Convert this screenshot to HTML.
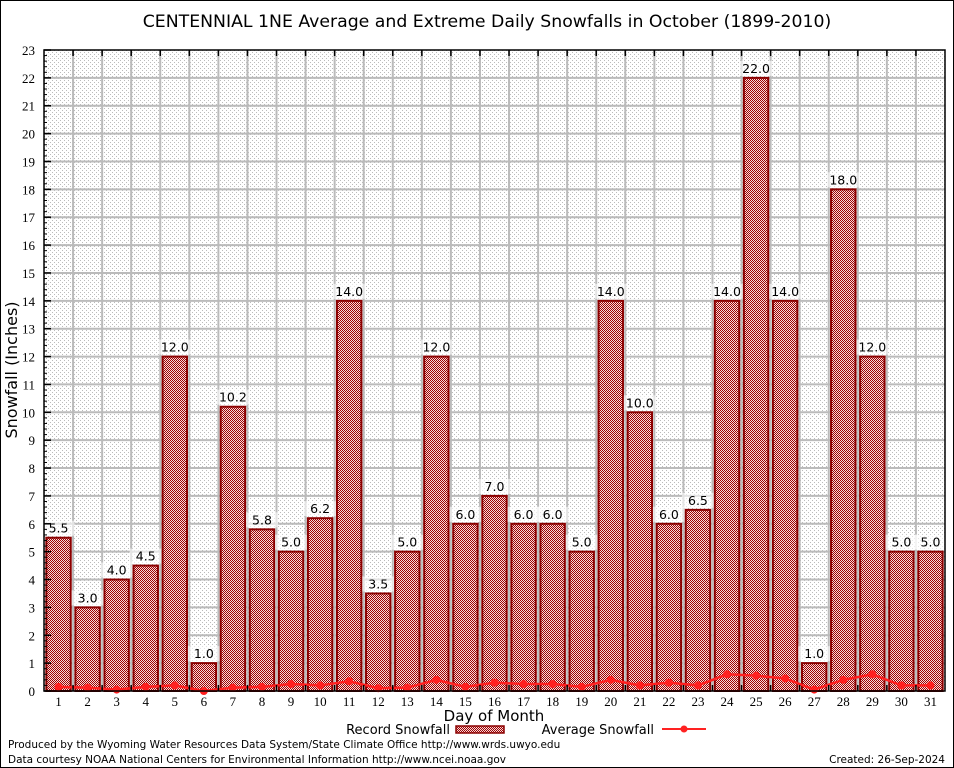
<!DOCTYPE html>
<html><head><meta charset="utf-8"><style>
body{margin:0;background:#fff}
svg{display:block;font-family:"DejaVu Sans","Liberation Sans",sans-serif}
.serif{font-family:"Liberation Serif",serif}
</style></head><body>
<svg id="chart" width="954" height="768" viewBox="0 0 954 768">
<defs>
<pattern id="dots" width="4" height="4" patternUnits="userSpaceOnUse"><rect x="0" y="0" width="1" height="1" fill="#bbb"/><rect x="2" y="2" width="1" height="1" fill="#bbb"/></pattern>
<pattern id="hatch" width="2" height="2" patternUnits="userSpaceOnUse"><rect width="2" height="2" fill="#f4dcdc"/><rect x="0" y="0" width="1" height="1" fill="#a00000"/><rect x="1" y="1" width="1" height="1" fill="#a00000"/></pattern>
</defs>
<rect x="0.5" y="0.5" width="953" height="767" fill="#fff" stroke="#000"/>
<text x="487" y="27" font-size="17.3" text-anchor="middle">CENTENNIAL 1NE Average and Extreme Daily Snowfalls in October (1899-2010)</text>
<rect x="44" y="50" width="901" height="641" fill="url(#dots)"/>
<g id="grid"></g>
<g id="bars"></g>
<g id="avg"></g>
<g id="axes"></g>
<rect x="44" y="50" width="901" height="641" fill="none" stroke="#000" stroke-width="1.5"/>
<text transform="translate(17,370) rotate(-90)" font-size="16" text-anchor="middle">Snowfall (Inches)</text>
<text x="494" y="721" font-size="15" text-anchor="middle">Day of Month</text>
<g>
<text x="450" y="734" font-size="13" text-anchor="end">Record Snowfall</text>
<rect x="456" y="726" width="48" height="7" fill="url(#hatch)" stroke="#8b0000" stroke-width="1.5"/>
</g>
<g>
<text x="654" y="734" font-size="13" text-anchor="end">Average Snowfall</text>
<line x1="662" y1="729" x2="706" y2="729" stroke="#f22" stroke-width="2"/>
<circle cx="684" cy="729" r="3.5" fill="#f22"/>
</g>
<text x="8" y="748" font-size="10.5">Produced by the Wyoming Water Resources Data System/State Climate Office http://www.wrds.uwyo.edu</text>
<text x="8" y="763" font-size="10.5">Data courtesy NOAA National Centers for Environmental Information http://www.ncei.noaa.gov</text>
<text x="945" y="763" font-size="10.5" text-anchor="end">Created: 26-Sep-2024</text>
</svg>
<script>
const days=[1,2,3,4,5,6,7,8,9,10,11,12,13,14,15,16,17,18,19,20,21,22,23,24,25,26,27,28,29,30,31];
const recordSnow=[5.5,3.0,4.0,4.5,12.0,1.0,10.2,5.8,5.0,6.2,14.0,3.5,5.0,12.0,6.0,7.0,6.0,6.0,5.0,14.0,10.0,6.0,6.5,14.0,22.0,14.0,1.0,18.0,12.0,5.0,5.0];
const avgSnow=[0.15,0.12,0.05,0.15,0.2,0.0,0.12,0.15,0.25,0.2,0.35,0.1,0.12,0.4,0.15,0.3,0.25,0.25,0.15,0.4,0.2,0.3,0.2,0.6,0.55,0.45,0.05,0.4,0.6,0.2,0.2];
const yTicks=[0,1,2,3,4,5,6,7,8,9,10,11,12,13,14,15,16,17,18,19,20,21,22,23];
const L=44,R=945,T=50,B=691,YMAX=23;
const dw=(R-L)/days.length;
const xC=d=>L+(d-0.5)*dw;
const y=v=>B-v/YMAX*(B-T);
const NS="http://www.w3.org/2000/svg";
function mk(tag,attrs,parent){const e=document.createElementNS(NS,tag);for(const k in attrs)e.setAttribute(k,attrs[k]);parent.appendChild(e);return e;}
const grid=document.getElementById('grid'),bars=document.getElementById('bars'),avg=document.getElementById('avg'),axes=document.getElementById('axes');
yTicks.forEach(t=>{
  const yy=y(t);
  if(t>0&&t<YMAX){const g=mk('line',{x1:L,x2:R,y1:yy,y2:yy,stroke:'#bbb','stroke-width':2},grid);
  
  }
  const tk=mk('line',{x1:L,x2:L+7,y1:yy,y2:yy,stroke:'#000','stroke-width':1.5},axes);
  
  
  const lb=mk('text',{x:L-9,y:yy+5,'font-size':13,'text-anchor':'end','class':'serif'},axes);
  lb.textContent=t;
  
  
  if(t<YMAX){for(let m=1;m<5;m++){const my=y(t+m*0.2);mk('line',{x1:L,x2:L+3,y1:my,y2:my,stroke:'#000'},axes);}}
});
days.forEach((d,i)=>{
  const xb=L+i*dw;
  if(i>0){const g=mk('line',{x1:xb,x2:xb,y1:T,y2:B,stroke:'#bbb','stroke-width':2},grid);
  
  
  mk('line',{x1:xb,x2:xb,y1:B,y2:B-6,stroke:'#000','stroke-width':1.5},axes);
  mk('line',{x1:xb,x2:xb,y1:T,y2:T+6,stroke:'#000','stroke-width':1.5},axes);}
  const v=recordSnow[i],bw=dw*0.84,top=y(v);
  const r=mk('rect',{x:xC(d)-bw/2,y:top,width:bw,height:B-top,fill:'url(#hatch)',stroke:'#8b0000','stroke-width':2},bars);
  
  
  mk('rect',{x:xC(d)-16,y:top-17,width:32,height:15,fill:'#fff','fill-opacity':0.6},bars);
  const vl=mk('text',{x:xC(d),y:top-5,'font-size':12.5,'text-anchor':'middle'},bars);
  vl.textContent=v.toFixed(1);
  
  
  const xl=mk('text',{x:xC(d),y:B+15,'font-size':13,'text-anchor':'middle','class':'serif'},axes);
  xl.textContent=d;
  
  
});
let dpath='';
days.forEach((d,i)=>{dpath+=(i?'L':'M')+xC(d)+','+y(avgSnow[i]);});
const ln=mk('path',{d:dpath,fill:'none',stroke:'#ff2020','stroke-width':2.5},avg);


days.forEach((d,i)=>{
  const c=mk('circle',{cx:xC(d),cy:y(avgSnow[i]),r:4,fill:'#ff2020'},avg);
  
  
});
</script>
</body></html>
